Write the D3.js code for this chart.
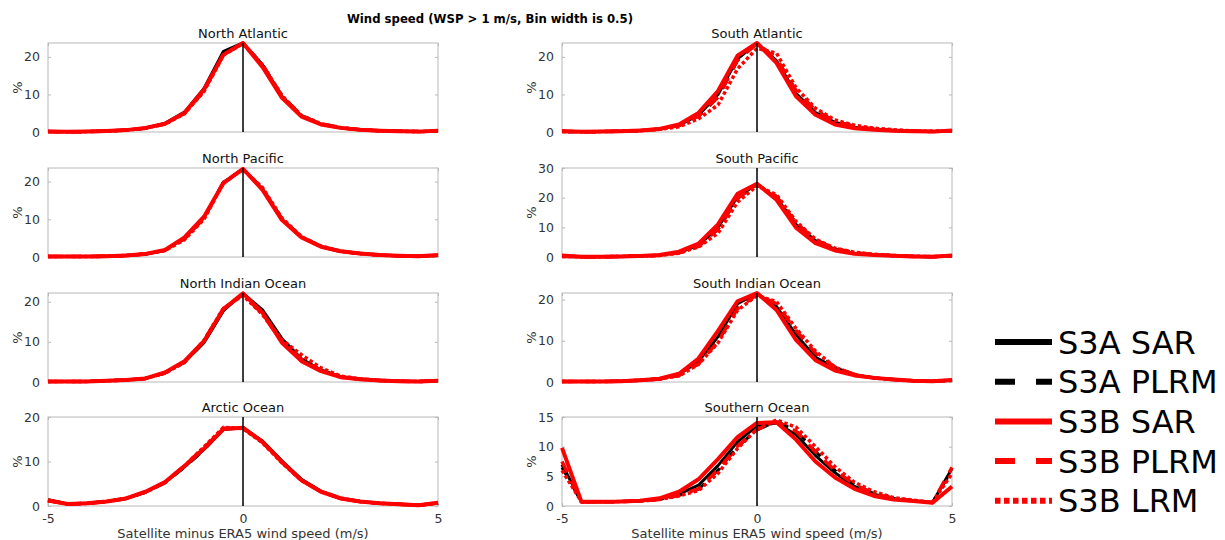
<!DOCTYPE html>
<html><head><meta charset="utf-8">
<script src="https://cdn.jsdelivr.net/npm/d3@7"></script>
<style>body{margin:0;background:#fff;}svg{display:block;font-family:"DejaVu Sans",sans-serif;}</style>
</head><body><svg id="c" width="1225" height="540"></svg>
<script>
const xBins = [-5,-4.5,-4,-3.5,-3,-2.5,-2,-1.5,-1,-0.5,0,0.5,1,1.5,2,2.5,3,3.5,4,4.5,5];
const seriesNames = ["S3A SAR","S3A PLRM","S3B SAR","S3B PLRM","S3B LRM"];
const regionNames = ["North Atlantic","North Pacific","North Indian Ocean","Arctic Ocean","South Atlantic","South Pacific","South Indian Ocean","Southern Ocean"];
const yMaxes = [23.7,23.6,22.2,20,23.7,30,21.6,15];
const yTickSets = [[0,10,20],[0,10,20],[0,10,20],[0,10,20],[0,10,20],[0,10,20,30],[0,10,20],[0,5,10,15]];
const xTickValues = [-5,0,5];

// each region: [S3A SAR, S3A PLRM, S3B SAR, S3B PLRM, S3B LRM]
const northAtlantic = [
 [0.1,0.05,0.1,0.25,0.5,1.1,2.3,5.3,11.6,21.5,23.7,17.9,9.5,4.3,2.1,1.1,0.6,0.35,0.2,0.1,0.3],
 [0.1,0.05,0.1,0.25,0.5,1.0,2.2,5.0,11.0,21.0,23.6,18.0,9.6,4.4,2.2,1.2,0.6,0.35,0.2,0.1,0.3],
 [0.1,0.05,0.1,0.25,0.5,1.1,2.2,5.1,11.3,20.6,23.7,17.3,9.1,4.1,2.0,1.1,0.6,0.35,0.2,0.1,0.35],
 [0.1,0.05,0.1,0.25,0.5,1.0,2.2,5.0,11.0,20.8,23.6,17.8,9.5,4.3,2.1,1.1,0.6,0.35,0.2,0.1,0.3],
 [0.1,0.05,0.1,0.25,0.5,1.0,2.1,4.9,10.8,20.5,23.5,17.9,9.7,4.4,2.2,1.2,0.6,0.35,0.2,0.1,0.3]];
const northPacific = [
 [0.1,0.1,0.1,0.2,0.4,0.8,1.8,5.0,10.5,19.8,23.3,18.1,10.0,5.3,2.8,1.5,0.9,0.5,0.3,0.2,0.4],
 [0.1,0.1,0.1,0.2,0.4,0.8,1.8,4.8,10.3,19.9,23.3,18.2,10.1,5.3,2.8,1.5,0.9,0.5,0.3,0.2,0.4],
 [0.1,0.1,0.1,0.2,0.4,0.8,1.9,5.2,10.7,19.6,23.4,17.8,9.8,5.2,2.7,1.5,0.9,0.5,0.3,0.2,0.5],
 [0.1,0.1,0.1,0.2,0.4,0.8,1.8,4.9,10.4,19.8,23.3,18.0,10.0,5.3,2.8,1.5,0.9,0.5,0.3,0.2,0.4],
 [0.1,0.1,0.1,0.2,0.4,0.8,1.7,4.6,10.0,19.7,23.2,18.4,10.3,5.4,2.9,1.6,0.9,0.5,0.3,0.2,0.4]];
const northIndian = [
 [0.1,0.1,0.15,0.3,0.5,0.9,2.3,5.0,9.8,17.8,22.1,18.0,10.8,5.8,3.0,1.4,0.7,0.4,0.2,0.1,0.3],
 [0.1,0.1,0.15,0.3,0.5,0.9,2.2,4.9,9.9,18.0,22.0,17.6,10.4,5.6,2.9,1.3,0.7,0.4,0.2,0.1,0.3],
 [0.1,0.1,0.15,0.3,0.5,0.9,2.4,5.2,10.2,18.2,22.1,17.3,9.8,5.2,2.7,1.2,0.7,0.4,0.2,0.1,0.3],
 [0.1,0.1,0.15,0.3,0.5,0.9,2.3,5.0,10.3,18.3,21.8,17.0,10.0,5.6,2.9,1.3,0.7,0.4,0.2,0.1,0.3],
 [0.1,0.1,0.15,0.3,0.5,0.9,2.2,4.9,10.4,18.4,21.6,16.8,10.5,6.8,3.5,1.5,0.8,0.4,0.2,0.1,0.3]];
const arcticOcean = [
 [1.4,0.45,0.6,1.0,1.7,3.1,5.3,8.8,12.7,17.2,17.6,14.6,10.1,6.0,3.3,1.7,1.0,0.6,0.4,0.15,0.6],
 [1.3,0.45,0.6,1.0,1.7,3.1,5.2,8.7,12.6,17.4,17.6,14.5,10.0,5.9,3.3,1.7,1.0,0.6,0.4,0.15,0.6],
 [1.3,0.45,0.6,1.0,1.7,3.2,5.4,9.0,12.9,17.3,17.6,14.4,9.9,5.8,3.2,1.7,1.0,0.6,0.4,0.15,0.75],
 [1.2,0.45,0.6,1.0,1.7,3.2,5.3,9.1,13.1,17.5,17.5,14.3,9.8,5.8,3.2,1.7,1.0,0.6,0.4,0.15,0.7],
 [1.2,0.45,0.6,1.0,1.7,3.1,5.3,9.0,13.3,17.7,17.4,14.2,9.7,5.7,3.3,1.8,1.0,0.6,0.4,0.15,0.7]];
const southAtlantic = [
 [0.1,0.05,0.1,0.2,0.4,0.8,1.8,4.5,10.0,19.5,23.7,19.0,10.3,5.2,2.6,1.3,0.7,0.4,0.2,0.1,0.3],
 [0.1,0.05,0.1,0.2,0.4,0.8,1.7,4.2,9.2,19.0,23.6,19.6,11.0,5.8,2.9,1.5,0.8,0.4,0.2,0.1,0.3],
 [0.3,0.05,0.1,0.2,0.4,0.8,2.0,5.1,10.9,20.3,23.7,18.4,9.5,4.6,2.0,1.0,0.6,0.3,0.2,0.1,0.4],
 [0.1,0.05,0.1,0.2,0.4,0.8,1.7,4.2,9.3,19.2,23.6,19.5,11.0,5.7,2.8,1.5,0.8,0.4,0.2,0.1,0.3],
 [0.1,0.05,0.1,0.2,0.3,0.7,1.4,3.5,7.2,16.8,22.3,21.0,11.8,6.3,3.2,1.8,1.0,0.6,0.3,0.2,0.3]];
const southPacific = [
 [0.2,0.1,0.1,0.2,0.3,0.6,1.5,3.9,10.0,20.3,24.5,20.0,11.0,5.5,2.6,1.3,0.8,0.4,0.2,0.1,0.4],
 [0.2,0.1,0.1,0.2,0.3,0.6,1.4,3.6,9.3,19.8,24.4,20.5,11.5,5.8,2.8,1.4,0.8,0.4,0.2,0.1,0.4],
 [0.5,0.1,0.1,0.2,0.3,0.7,1.8,4.5,11.0,21.3,24.7,19.3,9.9,4.7,2.2,1.1,0.7,0.4,0.2,0.1,0.5],
 [0.2,0.1,0.1,0.2,0.3,0.6,1.4,3.6,9.4,19.8,24.4,20.4,11.4,5.8,2.8,1.4,0.8,0.4,0.2,0.1,0.4],
 [0.2,0.1,0.1,0.2,0.3,0.5,1.3,3.4,8.0,18.5,24.0,21.0,12.0,6.0,3.0,1.6,0.9,0.5,0.3,0.1,0.4]];
const southIndian = [
 [0.1,0.1,0.1,0.2,0.4,0.8,1.8,5.0,11.0,19.0,21.5,18.3,11.5,6.0,3.5,1.8,1.0,0.6,0.3,0.2,0.4],
 [0.1,0.1,0.1,0.2,0.4,0.7,1.6,4.5,10.0,18.0,21.3,18.8,12.2,6.8,3.6,1.8,1.0,0.6,0.3,0.2,0.4],
 [0.1,0.1,0.1,0.2,0.4,0.8,2.0,5.7,12.4,19.6,21.6,17.5,10.2,5.3,2.8,1.6,1.0,0.6,0.3,0.2,0.5],
 [0.1,0.1,0.1,0.2,0.4,0.7,1.6,4.4,9.8,17.8,21.2,19.0,12.5,7.0,3.6,1.8,1.0,0.6,0.3,0.2,0.4],
 [0.1,0.1,0.1,0.2,0.4,0.7,1.5,4.3,9.5,17.4,21.0,19.5,13.0,7.5,3.6,1.8,1.0,0.6,0.3,0.2,0.4]];
const southernOcean = [
 [7.0,0.7,0.7,0.75,0.85,1.2,2.0,3.5,6.8,10.8,13.5,14.0,12.0,8.5,5.6,3.3,2.0,1.2,0.9,0.6,6.3],
 [6.5,0.7,0.7,0.75,0.85,1.1,1.8,2.8,6.0,10.0,12.8,14.3,12.7,9.2,6.0,3.6,2.1,1.3,0.9,0.6,6.0],
 [9.8,0.7,0.7,0.75,0.9,1.3,2.4,4.5,7.9,11.6,14.0,14.1,11.2,7.5,4.8,2.9,1.7,1.1,0.85,0.55,3.3],
 [7.5,0.7,0.7,0.75,0.85,1.1,1.8,2.9,6.1,10.1,12.9,14.2,12.6,9.1,6.0,3.6,2.1,1.3,0.9,0.6,6.5],
 [6.0,0.7,0.7,0.75,0.85,1.1,1.7,2.6,5.5,9.7,13.0,14.5,13.3,10.0,6.6,4.0,2.4,1.4,1.0,0.6,5.5]];
const regionData = [northAtlantic,northPacific,northIndian,arcticOcean,southAtlantic,southPacific,southIndian,southernOcean];

const styles = [
 {color:"#000",width:3,dash:null,lw:6,ldash:null},
 {color:"#000",width:3,dash:"12,10",lw:6,ldash:"20,21"},
 {color:"#f00",width:4,dash:null,lw:6,ldash:null},
 {color:"#f00",width:3.5,dash:"12,10",lw:6,ldash:"20,21"},
 {color:"#f00",width:3.5,dash:"3.5,2.5",lw:6,ldash:"5.5,3.5"}];

const svg = d3.select("#c");
svg.append("text").attr("x",490).attr("y",23).attr("text-anchor","middle")
  .attr("font-weight","bold").attr("font-size",11.7).text("Wind speed (WSP > 1 m/s, Bin width is 0.5)");

const colX = [48,562], pw = 390, rowTop = [43,168,293,417], ph = 89;
regionData.forEach((series,i)=>{
  const col = Math.floor(i/4), row = i%4;
  const x0 = colX[col], y0 = rowTop[row];
  const g = svg.append("g").attr("transform",`translate(${x0},${y0})`);
  const x = d3.scaleLinear().domain([-5,5]).range([0,pw]);
  const y = d3.scaleLinear().domain([0,yMaxes[i]]).range([ph,0]);
  // box
  g.append("rect").attr("width",pw).attr("height",ph).attr("fill","none").attr("stroke","#b8b8b8").attr("stroke-width",1);
  // y axis
  const ya = g.append("g").call(d3.axisLeft(y).tickValues(yTickSets[i]).tickSize(-3).tickPadding(8).tickFormat(d3.format("d")));
  ya.select(".domain").remove();
  ya.selectAll("line").attr("stroke","#b8b8b8");
  ya.selectAll("text").attr("font-size",12.5).attr("fill","#333").attr("font-family","DejaVu Sans");
  const yr = g.append("g").attr("transform",`translate(${pw},0)`).call(d3.axisRight(y).tickValues(yTickSets[i]).tickSize(-3).tickFormat(""));
  yr.select(".domain").remove(); yr.selectAll("line").attr("stroke","#b8b8b8");
  // x axis
  const xa = g.append("g").attr("transform",`translate(0,${ph})`).call(d3.axisBottom(x).tickValues(xTickValues).tickSize(-3).tickPadding(8)
      .tickFormat(d => row===3 ? (d<0 ? "-"+Math.abs(d) : String(d)) : ""));
  xa.select(".domain").remove(); xa.selectAll("line").attr("stroke","#b8b8b8");
  xa.selectAll("text").attr("font-size",12.5).attr("fill","#333").attr("font-family","DejaVu Sans");
  const xt = g.append("g").call(d3.axisTop(x).tickValues(xTickValues).tickSize(-3).tickFormat(""));
  xt.select(".domain").remove(); xt.selectAll("line").attr("stroke","#b8b8b8");
  // title
  g.append("text").attr("x",pw/2).attr("y",-5).attr("text-anchor","middle").attr("font-size",13).attr("fill","#111").text(regionNames[i]);
  // y label
  g.append("text").attr("transform",`translate(${-26},${ph/2}) rotate(-90)`).attr("text-anchor","middle").attr("font-size",13).attr("fill","#333").text("%");
  if(row===3){
    g.append("text").attr("x",pw/2).attr("y",ph+32).attr("text-anchor","middle").attr("font-size",13).attr("fill","#333").text("Satellite minus ERA5 wind speed (m/s)");
  }
  const line = d3.line().x((d,k)=>x(xBins[k])).y(d=>y(d));
  series.forEach((s,k)=>{
    const st = styles[k];
    g.append("path").datum(s).attr("d",line).attr("fill","none").attr("stroke",st.color)
     .attr("stroke-width",st.width).attr("stroke-dasharray",st.dash).attr("stroke-linejoin","round");
  });
  g.append("line").attr("x1",x(0)).attr("x2",x(0)).attr("y1",0).attr("y2",ph).attr("stroke","#000").attr("stroke-width",1.5);
});

// legend
const leg = svg.append("g");
seriesNames.forEach((n,k)=>{
  const st = styles[k], cy = 342 + k*39.7;
  leg.append("line").attr("x1",995).attr("x2",1052).attr("y1",cy).attr("y2",cy).attr("stroke",st.color)
    .attr("stroke-width",st.lw).attr("stroke-dasharray",st.ldash);
  leg.append("text").attr("x",1058).attr("y",cy+11.5).attr("font-size",32).attr("fill","#000").text(n);
});
</script></body></html>
